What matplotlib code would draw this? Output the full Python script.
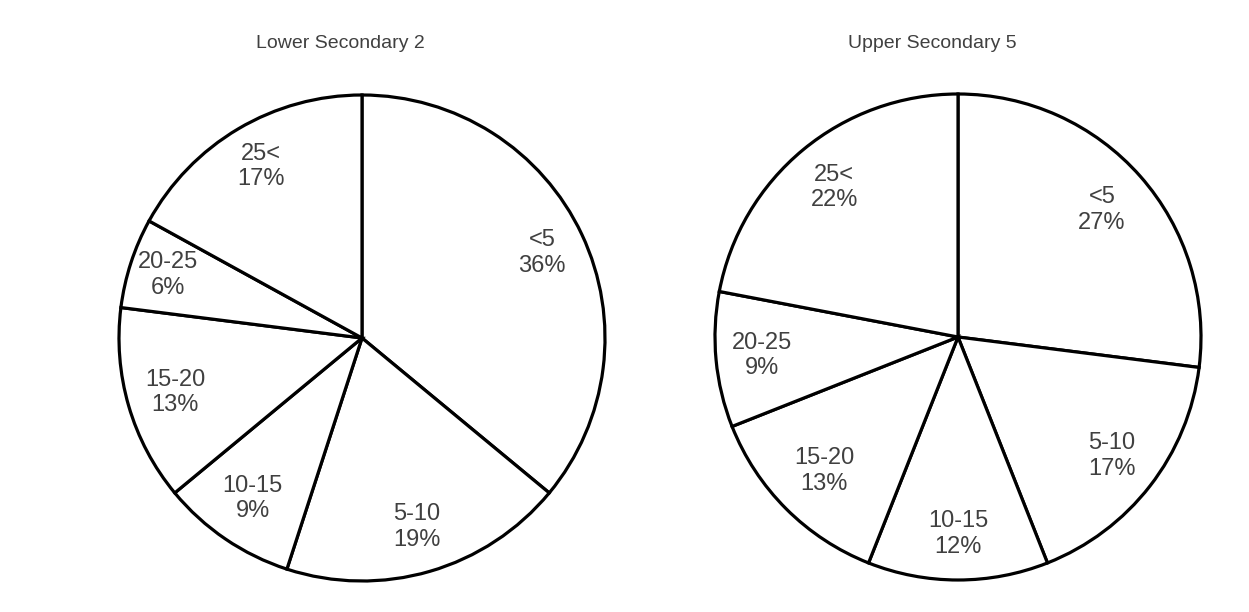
import numpy as np
import matplotlib.pyplot as plt

plt.rcParams['font.family'] = ['Liberation Sans', 'DejaVu Sans']

groups = ['<5', '5-10', '10-15', '15-20', '20-25', '25<']
lower_pct = [36, 19, 9, 13, 6, 17]
upper_pct = [27, 17, 12, 13, 9, 22]
titles = ['Lower Secondary 2', 'Upper Secondary 5']

# radial position of each label (fraction of radius)
lower_r = [0.82, 0.81, 0.80, 0.80, 0.84, 0.82]
upper_r = [0.79, 0.80, 0.81, 0.78, 0.81, 0.80]

txt = '#404040'
W, H = 1249, 612
fig = plt.figure(figsize=(W / 100, H / 100), dpi=100)


def draw_pie(cx, cy, rad, vals, radii, title, title_x):
    ax = fig.add_axes([(cx - rad) / W, (H - cy - rad) / H, 2 * rad / W, 2 * rad / H])
    wedges, _ = ax.pie(vals, startangle=90, counterclock=False, radius=1,
                       colors=['white'] * len(vals),
                       wedgeprops=dict(edgecolor='black', linewidth=2.3))
    for w in wedges:
        w.set_clip_on(False)
    for w, g, v, r in zip(wedges, groups, vals, radii):
        a = np.deg2rad((w.theta1 + w.theta2) / 2)
        ax.text(r * np.cos(a), r * np.sin(a), f'{g}\n{v}%', ha='center', va='center',
                fontsize=17, color=txt, linespacing=1.2)
    ax.set_xlim(-1, 1)
    ax.set_ylim(-1, 1)
    ax.set_aspect('equal')
    ax.axis('off')
    fig.text(title_x / W, 1 - 44 / H, title, ha='center', va='center', fontsize=14, color=txt)


draw_pie(362, 338, 243, lower_pct, lower_r, titles[0], 340)
draw_pie(958, 337, 243, upper_pct, upper_r, titles[1], 932)

fig.savefig('out.png', dpi=100, facecolor='white')
